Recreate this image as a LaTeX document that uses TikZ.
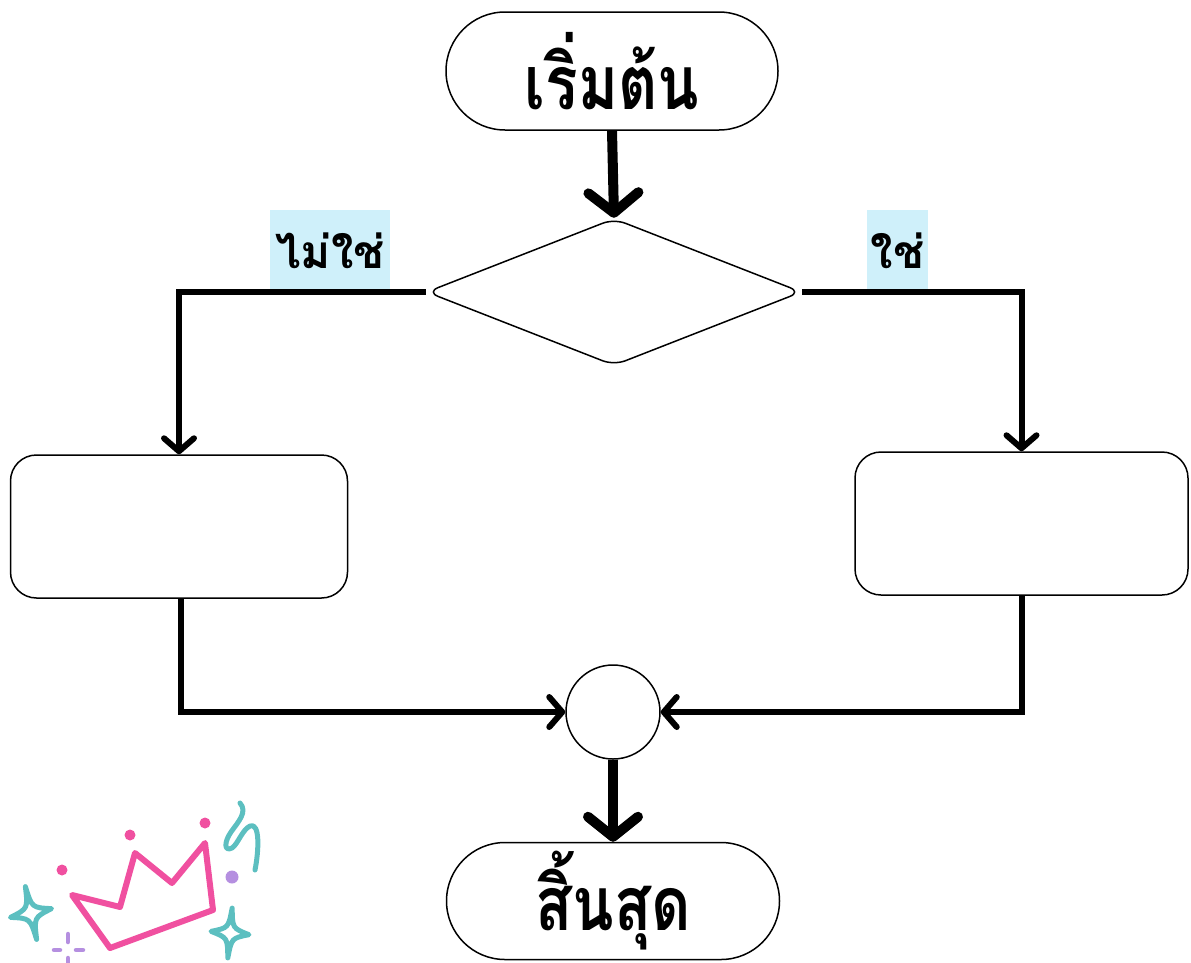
\documentclass[tikz,border=0pt]{standalone}
\usepackage{fontspec}
\newfontfamily\thaifont[Script=Thai,FakeStretch=0.81]{Loma}
\newfontfamily\thailabel[Script=Thai,FakeStretch=1.0]{Loma}
\usetikzlibrary{shapes.geometric,shapes.misc,arrows.meta}
\definecolor{labelblue}{HTML}{CFF0FA}
\definecolor{crownpink}{HTML}{F050A0}
\definecolor{sparkteal}{HTML}{5CBFC0}
\definecolor{dotpurple}{HTML}{B58FE0}
\tikzset{
  terminal/.style={draw=black, line width=1.5pt, rounded rectangle, fill=white, inner sep=0pt,
    font=\thaifont\bfseries\fontsize{75}{80}\selectfont},
  decision/.style={draw=black, line width=1.5pt, diamond, rounded corners=12pt, fill=white, inner sep=0pt},
  process/.style={draw=black, line width=1.5pt, rectangle, rounded corners=26pt, fill=white, inner sep=0pt},
  joint/.style={draw=black, line width=1.5pt, circle, fill=white, inner sep=0pt, minimum size=94pt},
  answer/.style={fill=labelblue, inner sep=0pt, font=\thailabel\bfseries\fontsize{46}{50}\selectfont},
  bigflow/.style={line width=10pt, -{Straight Barb[length=20pt,width=50pt,line cap=round,line join=round]}},
  flow/.style={line width=6pt, line join=miter, -{Straight Barb[length=13pt,width=30pt,line cap=round,line join=round]}},
  sparkle/.style={sparkteal, line width=5pt, line join=round, line cap=round},
}
\begin{document}
\begin{tikzpicture}[x=1pt,y=-1pt]
\useasboundingbox (0,0) rectangle (1191,962);
% labels
\node[answer, minimum width=120pt, minimum height=81pt] (nolab) at (330,250.5) {ไม่ใช่};
\node[answer, minimum width=61pt, minimum height=81pt] (yeslab) at (897.5,250.5) {ใช่};
% nodes
\node[terminal, minimum width=332pt, minimum height=118pt] (start) at (612,71) {เริ่มต้น};
\node[decision, minimum width=375pt, minimum height=147pt] (dec) at (614,292) {};
\node[process, minimum width=337pt, minimum height=143pt] (lbox) at (179,526.5) {};
\node[process, minimum width=333pt, minimum height=143pt] (rbox) at (1021.5,523.5) {};
\node[joint] (join) at (613,712) {};
\node[terminal, minimum width=333pt, minimum height=117pt] (stop) at (613,901) {สิ้นสุด};
% connectors
\draw[bigflow] (start.south) -- (dec.north);
\draw[flow] (dec.west) -| (lbox.north);
\draw[flow] (dec.east) -| (rbox.north);
\draw[flow] ([xshift=2pt]lbox.south) |- (join.west);
\draw[flow] (rbox.south) |- (join.east);
\draw[bigflow] (join.south) -- (stop.north);
% decoration: crown
\draw[crownpink, line width=6pt, line join=round, line cap=round]
  (72,895) -- (120,907) -- (135,853) -- (172,883) -- (205,843) -- (213,910) -- (110,948) -- cycle;
\fill[crownpink] (62,870) circle (5.5);
\fill[crownpink] (130,835) circle (5.5);
\fill[crownpink] (205,823) circle (5.5);
\fill[dotpurple] (232,877) circle (6.5);
% squiggle
\draw[sparkle, line width=5pt]
  (240,803) .. controls (248,812) and (238,822) .. (231,832)
  .. controls (224,842) and (224,852) .. (232,848)
  .. controls (238,844) and (242,830) .. (250,826)
  .. controls (260,822) and (259,850) .. (255,870);
% sparkles
\begin{scope}[shift={(31,913)}, rotate=12]
\draw[sparkle] (0,-27) .. controls (2,-5) .. (21,0) .. controls (2,5) .. (0,27)
  .. controls (-2,5) .. (-21,0) .. controls (-2,-5) .. (0,-27) -- cycle;
\end{scope}
\begin{scope}[shift={(230,933)}, rotate=-5]
\draw[sparkle] (0,-25) .. controls (2,-5) .. (19,0) .. controls (2,5) .. (0,25)
  .. controls (-2,5) .. (-19,0) .. controls (-2,-5) .. (0,-25) -- cycle;
\end{scope}
\begin{scope}[shift={(68,950)}]
\draw[dotpurple, line width=4.5pt, line cap=round] (0,-16) -- (0,-8) (0,8) -- (0,14) (-14,0) -- (-8,0) (8,0) -- (15,0);
\end{scope}
\end{tikzpicture}
\end{document}
